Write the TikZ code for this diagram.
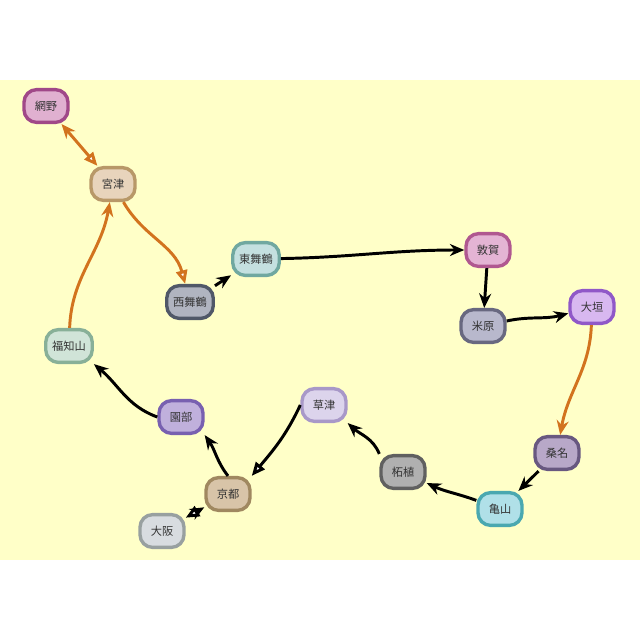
\documentclass[tikz,border=0pt]{standalone}
\usepackage{fontspec}
\newfontfamily\jpfont{Noto Sans CJK JP}
\usetikzlibrary{arrows.meta}
\definecolor{bgyellow}{HTML}{FFFFC8}
\definecolor{railorange}{HTML}{D2731E}
\tikzset{
    rail map/.style   = {x=0.025cm, y=-0.025cm},
    station/.style    = {draw, line width=2.4pt, rounded corners=9pt,
                         minimum width=1.1cm, minimum height=0.82cm,
                         inner xsep=0.16cm, font=\jpfont\fontsize{8}{9.6}\selectfont,
                         text=black!80},
    railhead/.tip     = {Stealth[length=3.6mm, width=3mm]},
    openhead/.tip     = {Triangle[open, length=3.4mm, width=2.8mm, fill=white]},
    track/.style      = {line width=2.1pt, black, >={railhead}},
    branch/.style     = {track, draw=railorange}
}

\begin{document}
\begin{tikzpicture}[rail map]

% ================= Canvas =================
\useasboundingbox (0,0) rectangle (640,640);
\fill[bgyellow] (0,80) rectangle (640,560);

% ================= Stations =================
\node[station, fill={rgb,255:red,224;green,176;blue,208}, draw={rgb,255:red,160;green,72;blue,136}]   (amino)          at (46,106)  {網野};
\node[station, fill={rgb,255:red,232;green,212;blue,188}, draw={rgb,255:red,184;green,152;blue,104}]  (miyazu)         at (113,184) {宮津};
\node[station, fill={rgb,255:red,176;green,180;blue,192}, draw={rgb,255:red,80;green,88;blue,104}]    (nishimaizuru)   at (190,302) {西舞鶴};
\node[station, fill={rgb,255:red,196;green,224;blue,224}, draw={rgb,255:red,112;green,168;blue,160}]  (higashimaizuru) at (256,259) {東舞鶴};
\node[station, fill={rgb,255:red,228;green,180;blue,212}, draw={rgb,255:red,176;green,88;blue,144}]   (tsuruga)        at (488,250) {敦賀};
\node[station, fill={rgb,255:red,184;green,184;blue,204}, draw={rgb,255:red,104;green,104;blue,128}]  (maibara)        at (483,326) {米原};
\node[station, fill={rgb,255:red,216;green,184;blue,240}, draw={rgb,255:red,144;green,88;blue,200}]   (ogaki)          at (592,307) {大垣};
\node[station, fill={rgb,255:red,184;green,168;blue,200}, draw={rgb,255:red,104;green,88;blue,128}]   (kuwana)         at (557,453) {桑名};
\node[station, fill={rgb,255:red,176;green,224;blue,232}, draw={rgb,255:red,74;green,168;blue,176}]   (kameyama)       at (500,509) {亀山};
\node[station, fill={rgb,255:red,176;green,176;blue,176}, draw={rgb,255:red,96;green,96;blue,96}]     (tsuge)          at (403,472) {柘植};
\node[station, fill={rgb,255:red,220;green,212;blue,236}, draw={rgb,255:red,168;green,152;blue,200}]  (kusatsu)        at (324,405) {草津};
\node[station, fill={rgb,255:red,216;green,196;blue,168}, draw={rgb,255:red,160;green,136;blue,96}]   (kyoto)          at (228,494) {京都};
\node[station, fill={rgb,255:red,216;green,220;blue,224}, draw={rgb,255:red,152;green,160;blue,160}]  (osaka)          at (162,531) {大阪};
\node[station, fill={rgb,255:red,192;green,176;blue,220}, draw={rgb,255:red,120;green,96;blue,176}]   (sonobe)         at (181,417) {園部};
\node[station, fill={rgb,255:red,208;green,228;blue,216}, draw={rgb,255:red,136;green,176;blue,152}]  (fukuchiyama)    at (69,346)  {福知山};

% ================= Orange branch lines =================
\draw[branch, {railhead}-{openhead}] (amino) -- (miyazu);
\draw[branch, -{openhead}] (miyazu) to[out=-60, in=105] (nishimaizuru);
\draw[branch, ->] (fukuchiyama) to[out=88, in=-100] (miyazu);
\draw[branch, ->] (ogaki) to[out=-92, in=80] (kuwana);

% ================= Black main lines =================
\draw[track, ->] (nishimaizuru) -- (higashimaizuru);
\draw[track, ->] (higashimaizuru) to[out=1, in=180] (tsuruga);
\draw[track, ->] (tsuruga) -- (maibara);
\draw[track, ->] (maibara) to[out=12, in=195] (ogaki);
\draw[track, ->] (kuwana) -- (kameyama);
\draw[track, ->] (kameyama) to[out=160, in=-25] (tsuge);
\draw[track, ->] (tsuge.north west) to[out=112, in=-42] (kusatsu.south east);
\draw[track, -{openhead}] (kusatsu.west) to[out=-115, in=50] (kyoto.north east);
\draw[track, ->] (kyoto.north) to[out=128, in=-55] (sonobe.south east);
\draw[track, ->] (sonobe.west) to[out=160, in=-40] (fukuchiyama.south east);
\draw[track, {openhead}-{railhead}] (osaka) -- (kyoto);

\end{tikzpicture}
\end{document}
